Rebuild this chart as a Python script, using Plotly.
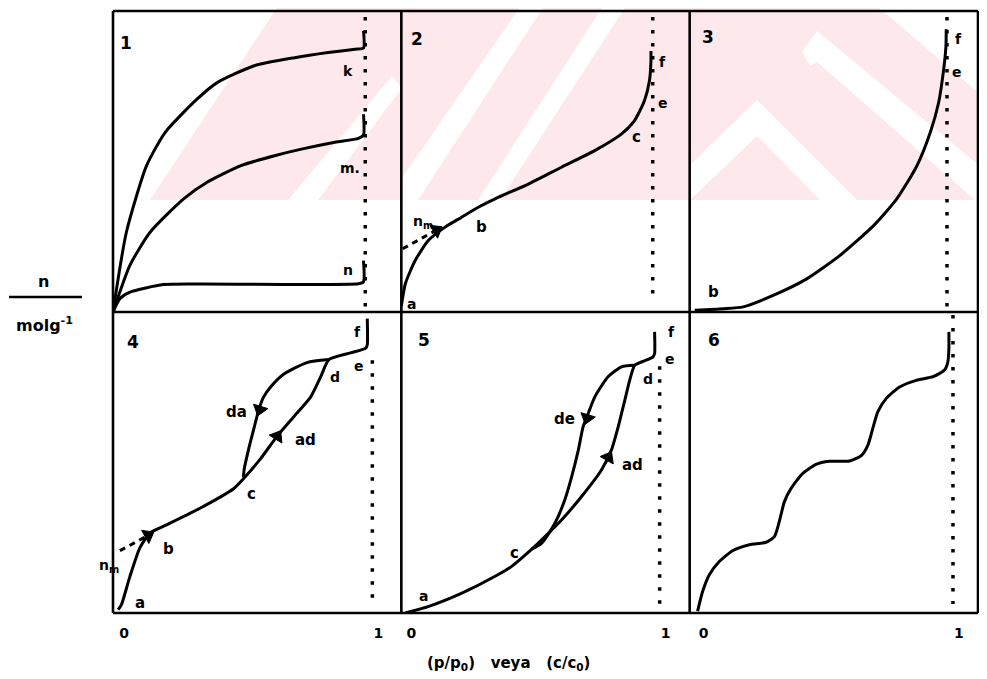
import plotly.graph_objects as go
from plotly.subplots import make_subplots

# ---------------- data ----------------
# Panel 1 : three type-I isotherms (k, m, n)
p1_k_x = [0.0, 0.053, 0.133, 0.207, 0.333, 0.413, 0.56, 0.72, 0.853, 0.96, 0.993, 0.993]
p1_k_y = [0.0, 0.265, 0.486, 0.597, 0.707, 0.762, 0.818, 0.845, 0.862, 0.873, 0.877, 0.934]
p1_m_x = [0.0, 0.067, 0.147, 0.28, 0.373, 0.507, 0.64, 0.747, 0.88, 0.973, 0.993, 0.993]
p1_m_y = [0.0, 0.155, 0.265, 0.376, 0.431, 0.486, 0.519, 0.541, 0.564, 0.577, 0.588, 0.657]
p1_n_x = [0.0, 0.027, 0.067, 0.2, 0.347, 0.973, 0.993, 0.993]
p1_n_y = [0.0, 0.044, 0.066, 0.091, 0.093, 0.094, 0.1, 0.171]

# Panel 2 : type II
p2_x = [0.0, 0.016, 0.055, 0.108, 0.174, 0.24, 0.306, 0.373, 0.505, 0.637, 0.769, 0.875, 0.927, 0.967, 0.987, 0.993, 0.993]
p2_y = [0.02, 0.094, 0.171, 0.238, 0.282, 0.315, 0.348, 0.376, 0.425, 0.481, 0.536, 0.591, 0.635, 0.702, 0.768, 0.834, 0.867]
p2_nm_x = [0.005, 0.148]
p2_nm_y = [0.21, 0.276]

# Panel 3 : type III
p3_x = [0.0, 0.113, 0.192, 0.311, 0.444, 0.576, 0.709, 0.801, 0.881, 0.934, 0.967, 0.987, 0.996, 0.997]
p3_y = [0.006, 0.011, 0.017, 0.055, 0.11, 0.188, 0.287, 0.376, 0.486, 0.597, 0.696, 0.807, 0.884, 0.939]

# Panel 4 : type IV (adsorption and desorption branches)
p4_ad_x = [0.0, 0.013, 0.046, 0.086, 0.125, 0.191, 0.322, 0.454, 0.493, 0.559, 0.625, 0.691, 0.757, 0.796, 0.829, 0.914, 0.974, 0.98, 0.98]
p4_ad_y = [0.011, 0.027, 0.12, 0.217, 0.266, 0.293, 0.348, 0.413, 0.446, 0.511, 0.587, 0.652, 0.717, 0.783, 0.842, 0.864, 0.88, 0.891, 0.978]
p4_de_x = [0.829, 0.743, 0.651, 0.599, 0.572, 0.553, 0.533, 0.513, 0.496, 0.493]
p4_de_y = [0.842, 0.832, 0.793, 0.75, 0.717, 0.674, 0.609, 0.543, 0.478, 0.451]
p4_nm_x = [0.007, 0.125]
p4_nm_y = [0.207, 0.261]

# Panel 5 : type V
p5_ad_x = [0.0, 0.092, 0.222, 0.353, 0.418, 0.497, 0.549, 0.614, 0.693, 0.771, 0.81, 0.837, 0.863, 0.882, 0.902, 0.941, 0.974, 0.98, 0.98]
p5_ad_y = [0.0, 0.022, 0.066, 0.122, 0.155, 0.212, 0.254, 0.309, 0.387, 0.475, 0.541, 0.619, 0.707, 0.773, 0.823, 0.838, 0.851, 0.862, 0.934]
p5_de_x = [0.902, 0.85, 0.797, 0.745, 0.719, 0.699, 0.68, 0.654, 0.627, 0.588, 0.536, 0.497]
p5_de_y = [0.823, 0.818, 0.785, 0.718, 0.663, 0.619, 0.541, 0.453, 0.376, 0.298, 0.232, 0.212]

# Panel 6 : type VI (stepwise)
p6_x = [0.0, 0.02, 0.046, 0.085, 0.137, 0.203, 0.268, 0.301, 0.32, 0.34, 0.366, 0.412, 0.464, 0.516, 0.595, 0.641, 0.667, 0.686, 0.706, 0.739, 0.791, 0.856, 0.922, 0.967, 0.98, 0.984, 0.984]
p6_y = [0.006, 0.072, 0.127, 0.171, 0.207, 0.227, 0.235, 0.254, 0.304, 0.37, 0.414, 0.464, 0.494, 0.504, 0.505, 0.523, 0.558, 0.613, 0.669, 0.713, 0.751, 0.773, 0.785, 0.807, 0.834, 0.878, 0.934]

x_tick_vals = [0, 1]
x_tick_text = ["0", "1"]
panel_numbers = ["1", "2", "3", "4", "5", "6"]
x_title = "(p/p<sub>0</sub>)   veya   (c/c<sub>0</sub>)"
y_title_top = "n"
y_title_bottom = "molg<sup>-1</sup>"

# ---------------- figure ----------------
OFF = 8                      # page body margin of the browser
W, H = 987 - OFF, 679 - OFF  # figure size
ML, MR, MT, MB = 113 - OFF, 9, 11 - OFF, 66
PW, PH = W - ML - MR, H - MT - MB


def pp(px, py):
    """window pixel -> paper coords"""
    return (px - OFF - ML) / PW, (OFF + H - MB - py) / PH


fig = make_subplots(rows=2, cols=3, horizontal_spacing=0, vertical_spacing=0)

LW = 3
FONT = "DejaVu Sans"


def curve(x, y, row, col, dash="solid", smooth=True):
    fig.add_trace(go.Scatter(
        x=x, y=y, mode="lines",
        line=dict(color="black", width=LW, dash=dash,
                  shape="spline" if smooth else "linear", smoothing=0.6),
        hoverinfo="skip", showlegend=False), row=row, col=col)


def dotted(row, col, y0, y1):
    fig.add_trace(go.Scatter(
        x=[1, 1], y=[y0, y1], mode="lines",
        line=dict(color="black", width=3.5, dash="3.5px,9.5px"),
        hoverinfo="skip", showlegend=False), row=row, col=col)


def arrowhead(row, col, x0, y0, x1, y1):
    # triangle marker at (x1, y1), oriented along the direction from (x0, y0)
    fig.add_trace(go.Scatter(
        x=[x0, x1], y=[y0, y1], mode="markers",
        marker=dict(symbol="triangle-up", size=[0, 13], color="black", opacity=1,
                    angleref="previous", line=dict(width=1, color="black")),
        hoverinfo="skip", showlegend=False), row=row, col=col)


# dotted x = 1 lines
dotted(1, 1, 0.98, 0.0)
dotted(1, 2, 0.98, 0.03)
dotted(1, 3, 0.98, 0.0)
dotted(2, 1, 0.84, 0.04)
dotted(2, 2, 0.82, 0.02)
dotted(2, 3, 0.99, 0.03)

curve(p1_k_x, p1_k_y, 1, 1)
curve(p1_m_x, p1_m_y, 1, 1)
curve(p1_n_x, p1_n_y, 1, 1)
curve(p2_x, p2_y, 1, 2)
curve(p2_nm_x, p2_nm_y, 1, 2, dash="6px,5px", smooth=False)
curve(p3_x, p3_y, 1, 3)
curve(p4_ad_x, p4_ad_y, 2, 1)
curve(p4_de_x, p4_de_y, 2, 1)
curve(p4_nm_x, p4_nm_y, 2, 1, dash="6px,5px", smooth=False)
curve(p5_ad_x, p5_ad_y, 2, 2)
curve(p5_de_x, p5_de_y, 2, 2)
curve(p6_x, p6_y, 2, 3)

arrowhead(1, 2, 0.11, 0.257, 0.14, 0.272)
arrowhead(2, 1, 0.09, 0.245, 0.118, 0.258)
arrowhead(2, 1, 0.572, 0.717, 0.557, 0.676)
arrowhead(2, 1, 0.595, 0.545, 0.626, 0.587)
arrowhead(2, 2, 0.73, 0.69, 0.715, 0.648)
arrowhead(2, 2, 0.77, 0.475, 0.798, 0.517)

# axis ranges (0 at left curve origin, 1 at dotted line)
xranges = {1: [0, 1.143], 2: [0, 1.147], 3: [-0.02, 1.123],
           4: [-0.02, 1.114], 5: [-0.016, 1.118], 6: [-0.031, 1.098]}
for i in range(1, 7):
    xa = "xaxis" if i == 1 else f"xaxis{i}"
    ya = "yaxis" if i == 1 else f"yaxis{i}"
    bottom = i >= 4
    fig.layout[xa].update(range=xranges[i], showgrid=False, zeroline=False,
                          showline=False, ticks="", showticklabels=bottom,
                          tickvals=x_tick_vals if bottom else None,
                          ticktext=x_tick_text if bottom else None,
                          ticklabelshift=6, ticklabelstandoff=10,
                          tickfont=dict(family=FONT, size=14, color="black", weight="bold"),
                          fixedrange=True)
    fig.layout[ya].update(range=[0, 1], showgrid=False, zeroline=False,
                          showline=False, ticks="", showticklabels=False, fixedrange=True)

annots = []


def lab(i, x, y, t, size=15):
    s = "" if i == 1 else str(i)
    annots.append(dict(x=x, y=y, xref="x" + s, yref="y" + s, text=t, showarrow=False,
                       xanchor="center", yanchor="middle",
                       font=dict(family=FONT, size=size, color="black", weight="bold")))


def plab(px, py, t, size=15):
    ax_, ay_ = pp(px, py)
    annots.append(dict(x=ax_, y=ay_, xref="paper", yref="paper", text=t, showarrow=False,
                       xanchor="center", yanchor="middle",
                       font=dict(family=FONT, size=size, color="black", weight="bold")))


# panel numbers
pos_num = [(0.053, 0.895), (0.062, 0.906), (0.053, 0.912), (0.059, 0.902), (0.072, 0.906), (0.065, 0.906)]
for i, (px_, py_) in enumerate(pos_num, start=1):
    lab(i, px_, py_, panel_numbers[i - 1], size=17)

# panel 1 letters
lab(1, 0.933, 0.80, "k", 14)
lab(1, 0.94, 0.48, "m.", 14)
lab(1, 0.933, 0.138, "n", 14)
# panel 2
lab(2, 0.042, 0.028, "a", 14)
lab(2, 0.085, 0.30, "n<sub>m</sub>", 14)
lab(2, 0.32, 0.282, "b")
lab(2, 0.934, 0.58, "c")
lab(2, 1.04, 0.696, "e", 14)
lab(2, 1.04, 0.829, "f", 14)
# panel 3
lab(3, 0.073, 0.066, "b")
lab(3, 1.046, 0.906, "f", 14)
lab(3, 1.04, 0.796, "e", 14)
# panel 4
lab(4, 0.941, 0.935, "f", 14)
lab(4, 0.947, 0.82, "e", 14)
lab(4, 0.855, 0.783, "d", 14)
lab(4, 0.467, 0.668, "da")
lab(4, 0.737, 0.576, "ad")
lab(4, 0.526, 0.397, "c")
lab(4, 0.197, 0.212, "b")
lab(4, 0.086, 0.033, "a")
plab(109, 566, "n<sub>m</sub>", 14)
# panel 5
lab(5, 1.046, 0.934, "f", 14)
lab(5, 1.039, 0.845, "e", 14)
lab(5, 0.954, 0.779, "d", 14)
lab(5, 0.627, 0.646, "de")
lab(5, 0.895, 0.492, "ad")
lab(5, 0.431, 0.199, "c")
lab(5, 0.072, 0.055, "a", 14)

# axis titles
plab(508, 663, x_title, 15)
plab(43, 281, y_title_top, 16)
plab(44, 324, y_title_bottom, 16)

shapes = []
lx0, ly = pp(9, 297)
lx1, _ = pp(82, 297)
shapes.append(dict(type="line", xref="paper", yref="paper", x0=lx0, x1=lx1, y0=ly, y1=ly,
                   line=dict(color="black", width=2.5)))

# panel frames
BW = 2.6
for xv in [0, 1 / 3, 2 / 3, 1]:
    shapes.append(dict(type="line", xref="paper", yref="paper", x0=xv, x1=xv, y0=0, y1=1,
                       line=dict(color="black", width=BW)))
for yv in [0, 0.5, 1]:
    shapes.append(dict(type="line", xref="paper", yref="paper", x0=0, x1=1, y0=yv, y1=yv,
                       line=dict(color="black", width=BW)))


# faint watermark in the background (decoration)
def poly(pts, color):
    d = "M " + " L ".join(f"{pp(a, b)[0]:.4f},{pp(a, b)[1]:.4f}" for a, b in pts) + " Z"
    shapes.append(dict(type="path", path=d, xref="paper", yref="paper", layer="below",
                       fillcolor=color, line=dict(width=0)))


PINK = "#fde8eb"
WHITE = "#ffffff"
poly([(150, 0), (987, 0), (987, 200), (150, 200)], PINK)
poly([(100, 0), (282, 0), (150, 200), (100, 200)], WHITE)
poly([(288, 200), (318, 200), (402, 88), (392, 76)], WHITE)
poly([(402, 178), (402, 200), (418, 200), (548, 0), (525, 0)], WHITE)
poly([(478, 200), (500, 200), (630, 0), (607, 0)], WHITE)
poly([(690, 165), (757, 100), (857, 200), (820, 200), (757, 136), (690, 200)], WHITE)
poly([(802, 52), (817, 31), (987, 172), (987, 200), (975, 200), (817, 62), (810, 66)], WHITE)
poly([(870, 0), (987, 0), (987, 100)], WHITE)

fig.update_layout(width=W, height=H, margin=dict(l=ML, r=MR, t=MT, b=MB),
                  paper_bgcolor="white", plot_bgcolor="rgba(0,0,0,0)",
                  showlegend=False, annotations=annots, shapes=shapes)

fig.write_html("out.html")
